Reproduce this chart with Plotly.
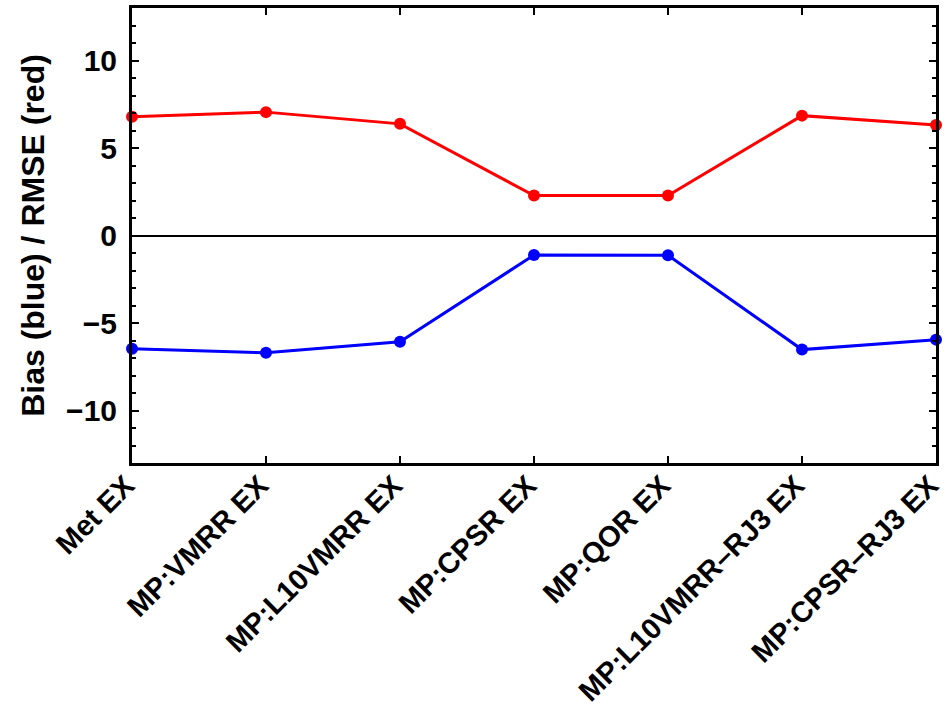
import plotly.graph_objects as go

categories = ["Met EX", "MP:VMRR EX", "MP:L10VMRR EX", "MP:CPSR EX",
              "MP:QOR EX", "MP:L10VMRR–RJ3 EX", "MP:CPSR–RJ3 EX"]
rmse = [6.78, 7.05, 6.38, 2.28, 2.28, 6.85, 6.32]
bias = [-6.47, -6.70, -6.07, -1.12, -1.13, -6.52, -5.95]
y_ticks = [-10, -5, 0, 5, 10]

FONT = "Liberation Sans, Arial, Helvetica, sans-serif"

fig = go.Figure()
fig.add_trace(go.Scatter(x=categories, y=rmse, mode="lines+markers",
                         line=dict(color="#ff0000", width=3),
                         marker=dict(color="#ff0000", size=12),
                         cliponaxis=False, showlegend=False))
fig.add_trace(go.Scatter(x=categories, y=bias, mode="lines+markers",
                         line=dict(color="#0000ff", width=3),
                         marker=dict(color="#0000ff", size=12),
                         cliponaxis=False, showlegend=False))

fig.update_layout(
    width=945, height=711,
    margin=dict(l=132, r=9, t=8, b=248),
    paper_bgcolor="white", plot_bgcolor="white",
    font=dict(family=FONT, color="black"),
)
fig.update_xaxes(
    type="category", range=[0, 6], automargin=False,
    showline=True, linecolor="black", linewidth=3, mirror="ticks",
    ticks="inside", ticklen=7, tickwidth=2, tickcolor="black",
    tickangle=-45, tickfont=dict(size=29, family=FONT, weight="bold"),
    ticklabelstandoff=-9, ticklabelshift=-6,
    showgrid=False, zeroline=False,
)
fig.update_yaxes(
    range=[-13, 13], tickvals=y_ticks, automargin=False,
    showline=True, linecolor="black", linewidth=3, mirror="ticks",
    ticks="inside", ticklen=7, tickwidth=2, tickcolor="black",
    minor=dict(ticks="inside", dtick=1, ticklen=4, tickwidth=2, tickcolor="black", showgrid=False),
    tickfont=dict(size=30, family=FONT, weight="bold"),
    ticklabelstandoff=6,
    title=dict(text="Bias (blue) / RMSE (red)", font=dict(size=32, family=FONT, weight="bold"), standoff=12),
    showgrid=False, zeroline=True, zerolinecolor="black", zerolinewidth=2,
)

fig.write_html("out.html")
